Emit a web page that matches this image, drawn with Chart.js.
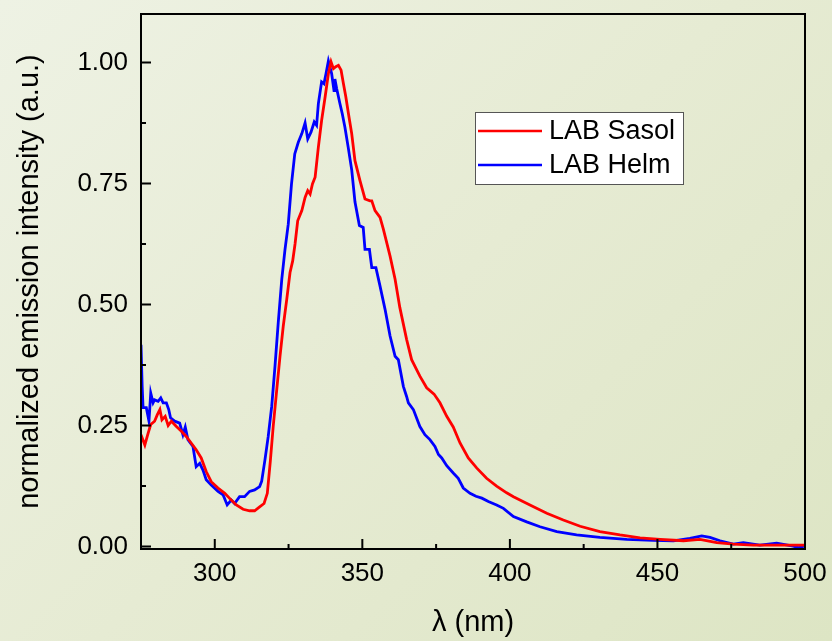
<!DOCTYPE html>
<html>
<head>
<meta charset="utf-8">
<script src="https://cdn.jsdelivr.net/npm/chart.js@4/dist/chart.umd.min.js"></script>
<style>
  html, body { margin: 0; padding: 0; }
  body { width: 832px; height: 641px; background: linear-gradient(135deg, #eef2e4 0%, #e6ebd3 50%, #dde5c4 100%); }
  #wrap { position: relative; width: 832px; height: 641px; }
</style>
</head>
<body>
<div id="wrap"><canvas id="spec"></canvas></div>
<script>
// emission spectra
const seriesNames = ["LAB Sasol", "LAB Helm"];
const seriesColors = ["#ff0000", "#0000ff"];

const sasolNm = [275.0, 276.3, 277.4, 278.3, 279.6, 280.5, 281.4, 282.1, 283.2, 284.2, 285.3, 287.0, 288.7, 290.4, 292.0, 293.7, 295.4, 297.1, 298.8, 301.1, 303.4, 305.6, 307.3, 309.6, 311.8, 313.5, 315.2, 316.7, 317.8, 318.8, 319.8, 321.0, 322.1, 323.2, 324.4, 325.5, 326.4, 327.2, 328.1, 329.5, 330.6, 331.5, 332.3, 333.1, 334.0, 335.1, 336.2, 337.4, 338.5, 339.4, 340.2, 341.0, 341.9, 342.8, 343.6, 344.4, 345.3, 346.4, 347.5, 349.2, 350.9, 352.6, 353.2, 354.3, 356.0, 357.1, 359.4, 361.1, 362.7, 365.0, 366.7, 369.5, 371.8, 374.3, 376.3, 378.6, 380.8, 383.1, 385.9, 388.8, 392.1, 395.5, 398.9, 401.2, 406.8, 412.5, 418.1, 423.8, 430.5, 437.3, 444.1, 450.9, 458.8, 464.4, 470.1, 475.7, 482.5, 489.3, 496.0, 500.0];
const sasolVal = [0.231, 0.210, 0.234, 0.252, 0.259, 0.272, 0.283, 0.262, 0.269, 0.250, 0.259, 0.248, 0.238, 0.227, 0.214, 0.200, 0.183, 0.155, 0.134, 0.121, 0.110, 0.096, 0.086, 0.077, 0.074, 0.074, 0.082, 0.089, 0.110, 0.175, 0.248, 0.324, 0.393, 0.455, 0.511, 0.566, 0.590, 0.625, 0.673, 0.694, 0.721, 0.735, 0.728, 0.749, 0.763, 0.825, 0.880, 0.929, 0.977, 1.001, 0.987, 0.991, 0.994, 0.984, 0.956, 0.929, 0.894, 0.853, 0.797, 0.756, 0.718, 0.714, 0.714, 0.694, 0.680, 0.656, 0.600, 0.552, 0.494, 0.428, 0.386, 0.352, 0.328, 0.315, 0.297, 0.269, 0.247, 0.214, 0.183, 0.162, 0.141, 0.125, 0.111, 0.103, 0.086, 0.069, 0.055, 0.042, 0.031, 0.024, 0.018, 0.015, 0.012, 0.015, 0.008, 0.005, 0.003, 0.003, 0.003, 0.003];

const helmNm = [275.0, 275.4, 275.7, 276.8, 277.7, 278.3, 279.1, 279.6, 280.8, 281.7, 282.5, 283.6, 284.4, 285.0, 286.4, 288.1, 289.2, 290.0, 290.9, 292.6, 293.7, 294.9, 296.0, 297.1, 298.8, 301.1, 302.8, 304.2, 305.6, 306.7, 308.4, 310.1, 311.8, 313.5, 315.2, 315.9, 317.0, 318.1, 319.3, 320.4, 321.5, 322.7, 323.8, 324.9, 326.0, 327.1, 328.3, 329.5, 330.6, 331.5, 332.6, 333.7, 334.5, 335.1, 336.2, 337.0, 337.7, 338.5, 339.6, 340.4, 340.7, 341.3, 342.4, 343.2, 344.1, 345.2, 346.4, 347.5, 349.0, 350.3, 350.9, 352.4, 353.2, 354.6, 356.0, 357.7, 359.4, 361.1, 362.2, 363.9, 365.0, 365.6, 367.3, 369.5, 371.2, 372.9, 374.6, 375.8, 376.9, 378.6, 380.8, 382.5, 384.2, 386.5, 388.5, 390.5, 392.7, 395.5, 397.8, 401.2, 405.7, 410.2, 415.9, 422.6, 430.5, 439.6, 448.6, 455.4, 461.0, 465.0, 467.8, 471.2, 475.7, 479.1, 484.7, 490.4, 496.0, 497.7, 500.0];
const helmVal = [0.417, 0.330, 0.287, 0.287, 0.259, 0.317, 0.297, 0.303, 0.300, 0.307, 0.297, 0.297, 0.283, 0.266, 0.259, 0.255, 0.231, 0.247, 0.221, 0.207, 0.165, 0.172, 0.158, 0.138, 0.127, 0.114, 0.107, 0.086, 0.096, 0.089, 0.103, 0.103, 0.114, 0.117, 0.124, 0.135, 0.179, 0.227, 0.290, 0.372, 0.462, 0.552, 0.614, 0.666, 0.749, 0.811, 0.835, 0.853, 0.875, 0.842, 0.856, 0.877, 0.870, 0.915, 0.960, 0.956, 0.977, 1.003, 0.977, 0.942, 0.966, 0.946, 0.915, 0.894, 0.866, 0.825, 0.778, 0.712, 0.663, 0.659, 0.614, 0.614, 0.576, 0.576, 0.538, 0.490, 0.435, 0.393, 0.386, 0.331, 0.310, 0.297, 0.283, 0.248, 0.231, 0.221, 0.207, 0.190, 0.183, 0.167, 0.152, 0.141, 0.121, 0.110, 0.104, 0.100, 0.093, 0.086, 0.079, 0.062, 0.051, 0.041, 0.031, 0.024, 0.019, 0.015, 0.013, 0.012, 0.017, 0.022, 0.019, 0.012, 0.005, 0.008, 0.003, 0.007, 0.001, -0.002, 0.001];

const xLabels = [300, 350, 400, 450, 500];
const xMinor = [325, 375, 425, 475];
const yLabels = [0, 0.25, 0.5, 0.75, 1.0];
const yMinor = [0.125, 0.375, 0.625, 0.875];

const toPts = (xs, ys) => xs.map((x, i) => ({ x: x, y: ys[i] }));

Chart.defaults.font.family = "'Liberation Sans', Arial, sans-serif";
Chart.defaults.color = "#000";

// box round the plot and inward tick marks
const framePlugin = {
  id: "frame",
  afterDatasetsDraw(chart) {
    const { ctx, chartArea: a, scales: { x, y } } = chart;
    ctx.save();
    ctx.strokeStyle = "#000";
    ctx.lineWidth = 2;
    ctx.strokeRect(a.left, a.top, a.right - a.left, a.bottom - a.top);
    ctx.beginPath();
    xLabels.forEach(v => { const px = x.getPixelForValue(v); ctx.moveTo(px, a.bottom); ctx.lineTo(px, a.bottom - 10); });
    xMinor.forEach(v => { const px = x.getPixelForValue(v); ctx.moveTo(px, a.bottom); ctx.lineTo(px, a.bottom - 5); });
    yLabels.forEach(v => { const py = y.getPixelForValue(v); ctx.moveTo(a.left, py); ctx.lineTo(a.left + 10, py); });
    yMinor.forEach(v => { const py = y.getPixelForValue(v); ctx.moveTo(a.left, py); ctx.lineTo(a.left + 5, py); });
    ctx.stroke();
    ctx.restore();
  }
};

// legend box inside the plot
const boxLegend = {
  id: "boxLegend",
  afterDraw(chart) {
    const { ctx } = chart;
    const bx = 475, by = 112, bw = 208, bh = 72;
    ctx.save();
    ctx.fillStyle = "#fff";
    ctx.fillRect(bx, by, bw, bh);
    ctx.strokeStyle = "#555";
    ctx.lineWidth = 1;
    ctx.strokeRect(bx + 0.5, by + 0.5, bw, bh);
    ctx.font = "27px 'Liberation Sans', Arial, sans-serif";
    ctx.textBaseline = "middle";
    chart.data.datasets.forEach((ds, i) => {
      const ly = by + 19 + i * 34;
      ctx.strokeStyle = ds.borderColor;
      ctx.lineWidth = 2.5;
      ctx.beginPath();
      ctx.moveTo(bx + 3, ly);
      ctx.lineTo(bx + 67, ly);
      ctx.stroke();
      ctx.fillStyle = "#000";
      ctx.fillText(ds.label, bx + 74, ly + 1);
    });
    ctx.restore();
  }
};

new Chart(document.getElementById("spec"), {
  type: "line",
  data: {
    datasets: [
      { label: seriesNames[0], data: toPts(sasolNm, sasolVal), borderColor: seriesColors[0] },
      { label: seriesNames[1], data: toPts(helmNm, helmVal), borderColor: seriesColors[1] }
    ]
  },
  options: {
    responsive: true,
    maintainAspectRatio: false,
    animation: false,
    layout: { padding: { top: 14, right: 27, left: 0, bottom: 0 } },
    elements: {
      point: { radius: 0 },
      line: { borderWidth: 2.8, tension: 0 }
    },
    plugins: {
      legend: { display: false },
      tooltip: { enabled: false }
    },
    scales: {
      x: {
        type: "linear",
        min: 275,
        max: 500,
        grid: { display: false, drawTicks: false },
        border: { display: false },
        afterBuildTicks: s => { s.ticks = xLabels.map(v => ({ value: v })); },
        afterFit: s => { s.height = 92; s.paddingLeft = 0; s.paddingRight = 0; },
        ticks: { font: { size: 26 }, padding: 9, maxRotation: 0, callback: v => String(v) },
        title: { display: true, text: "λ (nm)", font: { size: 29 }, padding: { top: 0, bottom: 1 } }
      },
      y: {
        min: -0.005,
        max: 1.10,
        grid: { display: false, drawTicks: false },
        border: { display: false },
        afterBuildTicks: s => { s.ticks = yLabels.map(v => ({ value: v })); },
        afterFit: s => { s.width = 141; s.paddingTop = 0; s.paddingBottom = 0; },
        ticks: { font: { size: 26 }, padding: 13, callback: v => v.toFixed(2) },
        title: { display: true, text: "normalized emission intensity (a.u.)", font: { size: 29 }, padding: { top: 13, bottom: 0 } }
      }
    }
  },
  plugins: [framePlugin, boxLegend]
});
</script>
</body>
</html>
